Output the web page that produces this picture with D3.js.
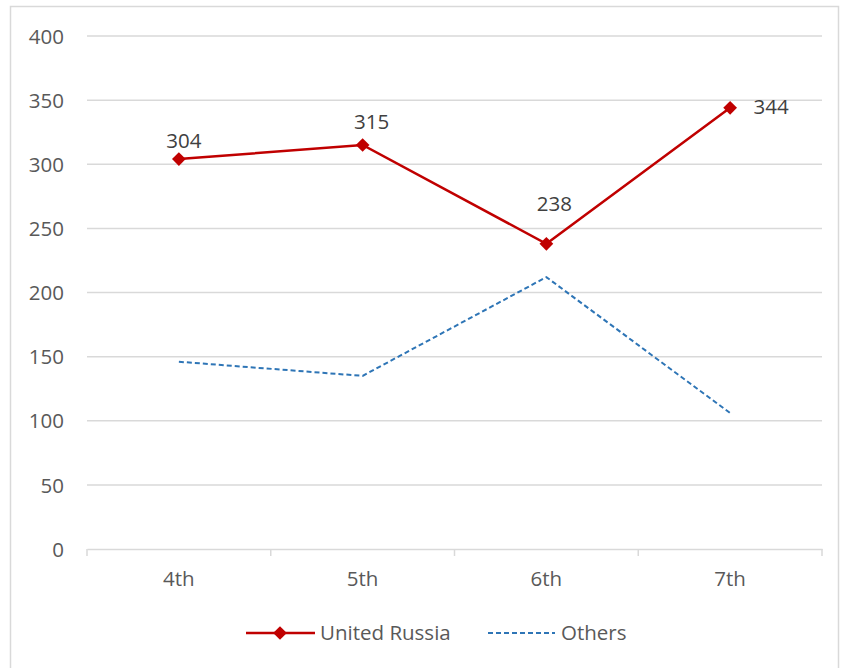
<!DOCTYPE html>
<html><head><meta charset="utf-8">
<script src="https://cdn.jsdelivr.net/npm/d3@7"></script>
<style>body{margin:0;background:#fff}text{font-family:"Open Sans",sans-serif}</style>
</head><body><svg id="c" width="841" height="668"></svg>
<script>
const categories = ["4th","5th","6th","7th"];
const unitedRussia = [304,315,238,344];
const others = [146,135,212,106];
const yTicks = [0,50,100,150,200,250,300,350,400];
const seriesNames = ["United Russia","Others"];

const svg = d3.select("#c");
svg.append("rect").attr("x",10.5).attr("y",6.5).attr("width",828).attr("height",670)
  .attr("fill","#fff").attr("stroke","#d9d9d9").attr("stroke-width",1.5);

const x = d3.scaleBand().domain(categories).range([87,822]);
const y = d3.scaleLinear().domain([0,400]).range([549,36]);
const cx = d => x(d)+x.bandwidth()/2;

// gridlines
svg.append("g").selectAll("line").data(yTicks.filter(t=>t>0)).join("line")
  .attr("x1",87).attr("x2",822).attr("y1",d=>y(d)).attr("y2",d=>y(d))
  .attr("stroke","#d9d9d9").attr("stroke-width",1.5);

// y axis labels
const ya = svg.append("g").attr("transform","translate(64,0)")
  .call(d3.axisLeft(y).tickValues(yTicks).tickSize(0).tickPadding(0));
ya.select(".domain").remove();
ya.selectAll("text").attr("font-size",20.5).attr("fill","#595959").attr("font-family","Open Sans").attr("dy","0.35em");

// x axis
const xa = svg.append("g").attr("transform","translate(0,549)")
  .call(d3.axisBottom(x).tickSize(0).tickPadding(22));
xa.select(".domain").attr("stroke","#d9d9d9").attr("stroke-width",1.5);
xa.selectAll("text").attr("font-size",20.5).attr("fill","#595959").attr("font-family","Open Sans");
const bounds = categories.map(c=>x(c)).concat([x(categories[categories.length-1])+x.bandwidth()]);
svg.append("g").selectAll("line").data(bounds).join("line")
  .attr("x1",d=>d).attr("x2",d=>d).attr("y1",549).attr("y2",556)
  .attr("stroke","#d9d9d9").attr("stroke-width",1.5);

const line = d3.line().x((d,i)=>cx(categories[i])).y(d=>y(d));

svg.append("path").datum(others).attr("d",line).attr("fill","none")
  .attr("stroke","#2e75b6").attr("stroke-width",2).attr("stroke-dasharray","5,3");

svg.append("path").datum(unitedRussia).attr("d",line).attr("fill","none")
  .attr("stroke","#c00000").attr("stroke-width",2.5);

const diamond = d3.symbol().type(d3.symbolDiamond2).size(120);
svg.append("g").selectAll("path").data(unitedRussia).join("path")
  .attr("d",diamond)
  .attr("transform",(d,i)=>`translate(${cx(categories[i])},${y(d)})`)
  .attr("fill","#c00000");

// data labels
const lblOff = [[5,-18],[9,-23],[8,-40],[41,-1]];
svg.append("g").selectAll("text").data(unitedRussia).join("text")
  .attr("x",(d,i)=>cx(categories[i])+lblOff[i][0])
  .attr("y",(d,i)=>y(d)+lblOff[i][1])
  .attr("text-anchor","middle").attr("dy","0.35em")
  .attr("font-size",20.5).attr("fill","#404040").text(d=>d);

// legend
const lg = svg.append("g");
lg.append("line").attr("x1",246).attr("x2",315).attr("y1",633).attr("y2",633)
  .attr("stroke","#c00000").attr("stroke-width",2.5);
lg.append("path").attr("d",diamond).attr("transform","translate(280,633)").attr("fill","#c00000");
lg.append("text").attr("x",320).attr("y",633).attr("dy","0.35em").attr("font-size",20.5)
  .attr("fill","#595959").text(seriesNames[0]);
lg.append("line").attr("x1",488).attr("x2",555).attr("y1",633).attr("y2",633)
  .attr("stroke","#2e75b6").attr("stroke-width",2).attr("stroke-dasharray","5,3");
lg.append("text").attr("x",561).attr("y",633).attr("dy","0.35em").attr("font-size",20.5)
  .attr("fill","#595959").text(seriesNames[1]);
</script></body></html>
